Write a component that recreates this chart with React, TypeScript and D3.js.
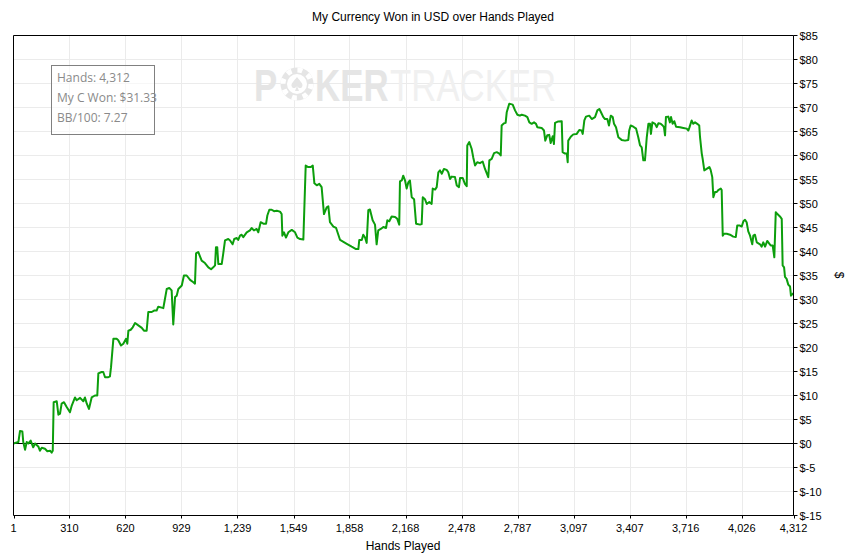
import React from "react";
import * as d3 from "d3";

const width = 857;
const height = 554;

const left = 13.5;
const right = 793.5;
const top = 35.5;
const bottom = 515.5;

// [hands played, cumulative USD won]
const curve: [number, number][] = [
  [1, 0], [28, 0.3], [37, 2.6], [50, 2.5], [55, 0.3], [65, -1.3], [74, 0.3], [83, 0], [96, 0.6], [110, -0.8],
  [120, 0], [138, -0.6], [147, -1.5], [157, -0.9], [175, -1.1], [188, -1.6], [203, -1.5], [212, -1.9], [218, -1.5],
  [223, 8.6], [240, 8.8], [249, 6.0], [258, 6.2], [267, 8.3], [280, 8.6], [295, 7.6], [313, 6.5], [323, 7.9],
  [341, 9.6], [350, 9.0], [369, 9.5], [387, 8.8], [396, 9.6], [406, 8.3], [418, 7.2], [433, 9.6], [451, 10.0],
  [464, 10.0], [470, 14.6], [488, 14.9], [497, 14.9], [507, 13.8], [525, 13.8], [534, 14.0], [540, 15.9],
  [553, 21.8], [571, 21.8], [580, 21.5], [595, 20.4], [608, 20.8], [623, 21.8], [630, 20.8], [636, 23.5],
  [649, 23.7], [660, 24.2], [673, 25.1], [691, 24.6], [710, 24.1], [722, 23.5], [737, 23.5], [746, 27.4],
  [765, 27.4], [778, 27.7], [792, 27.7], [801, 28.5], [820, 28.3], [829, 28.2], [838, 30.1], [848, 32.2],
  [862, 32.4], [875, 31.9], [884, 24.8], [894, 30.5], [903, 30.8], [912, 32.2], [931, 32.9], [943, 35.0],
  [958, 35.0], [977, 34.1], [995, 33.6], [1004, 33.3], [1010, 39.6], [1022, 39.9], [1041, 38.1], [1059, 37.6],
  [1078, 36.7], [1093, 36.3], [1105, 36.7], [1115, 37.1], [1120, 40.9], [1127, 40.9], [1133, 37.4], [1152, 37.4],
  [1160, 39.5], [1170, 42.3], [1188, 42.6], [1198, 42.3], [1212, 41.5], [1221, 42.6], [1235, 42.8], [1243, 42.4],
  [1253, 43.3], [1262, 43.5], [1271, 43.0], [1290, 44.0], [1308, 44.4], [1317, 44.9], [1330, 44.4], [1345, 44.7],
  [1354, 44.0], [1367, 46.1], [1382, 45.8], [1397, 45.8], [1404, 47.5], [1415, 48.7], [1428, 48.7], [1441, 48.4],
  [1456, 48.5], [1474, 48.3], [1483, 47.8], [1487, 43.3], [1496, 44.0], [1507, 42.9], [1520, 44.0], [1539, 44.5],
  [1557, 44.0], [1570, 42.9], [1585, 42.6], [1603, 42.5], [1616, 57.9], [1630, 57.6], [1644, 57.6], [1655, 57.9],
  [1664, 54.2], [1677, 53.8], [1691, 54.1], [1704, 53.4], [1717, 47.8], [1732, 49.2], [1741, 49.4], [1750, 46.1],
  [1769, 45.2], [1784, 44.9], [1806, 42.4], [1843, 41.6], [1870, 41.0], [1894, 40.5], [1907, 40.5], [1912, 42.4],
  [1926, 42.4], [1934, 43.5], [1944, 42.9], [1953, 41.8], [1962, 48.6], [1971, 48.75], [1986, 46.5], [1999, 45.6],
  [2008, 41.5], [2017, 44.4], [2031, 44.7], [2045, 45.1], [2060, 44.9], [2067, 46.5], [2078, 46.3], [2091, 47.3],
  [2110, 47.2], [2122, 46.8], [2133, 45.6], [2137, 54.6], [2147, 54.8], [2155, 55.8], [2165, 54.8], [2174, 53.1],
  [2183, 54.4], [2192, 54.8], [2202, 51.3], [2215, 50.9], [2226, 45.8], [2248, 45.6], [2257, 45.7], [2263, 51.3],
  [2275, 50.9], [2285, 49.9], [2299, 50.3], [2312, 49.9], [2318, 53.1], [2331, 52.9], [2340, 53.4], [2349, 56.5],
  [2358, 56.9], [2368, 56.2], [2380, 57.2], [2395, 57.0], [2404, 56.5], [2414, 55.1], [2423, 55.6], [2441, 55.5],
  [2451, 53.75], [2463, 53.4], [2469, 55.3], [2484, 55.3], [2496, 54.1], [2506, 53.6], [2509, 62.1], [2520, 62.8],
  [2533, 61.4], [2542, 59.6], [2552, 57.9], [2564, 58.6], [2579, 58.4], [2594, 58.75], [2607, 57.2], [2625, 55.5],
  [2631, 59.0], [2644, 59.3], [2657, 60.5], [2672, 60.7], [2686, 60.4], [2694, 60.0], [2699, 66.25], [2712, 66.7],
  [2721, 66.8], [2727, 69.0], [2741, 70.8], [2760, 70.6], [2773, 69.4], [2786, 68.5], [2800, 68.3], [2810, 68.5],
  [2828, 68.3], [2841, 68.0], [2852, 66.9], [2865, 66.6], [2878, 66.9], [2889, 66.6], [2896, 65.9], [2920, 65.75],
  [2933, 65.2], [2940, 63.1], [2951, 64.2], [2962, 64.3], [2970, 62.6], [2981, 64.0], [2988, 62.4], [2994, 66.8],
  [3012, 67.1], [3031, 67.15], [3036, 60.7], [3049, 60.4], [3059, 60.4], [3064, 58.6], [3067, 63.1], [3081, 63.9],
  [3095, 64.4], [3114, 64.5], [3128, 65.3], [3141, 65.2], [3147, 64.5], [3156, 67.3], [3165, 68.1], [3183, 68.3],
  [3197, 67.6], [3215, 68.0], [3228, 69.4], [3239, 69.7], [3248, 69.0], [3261, 68.0], [3270, 67.6], [3283, 67.6],
  [3292, 66.25], [3302, 68.3], [3313, 68.0], [3320, 66.6], [3331, 65.9], [3344, 63.8], [3362, 63.25], [3381, 63.1],
  [3399, 63.25], [3404, 65.2], [3412, 66.25], [3427, 66.0], [3442, 65.6], [3454, 63.8], [3464, 62.1], [3473, 61.7],
  [3482, 59.0], [3491, 59.0], [3501, 63.8], [3510, 66.6], [3519, 66.6], [3524, 64.5], [3532, 66.9], [3547, 66.6],
  [3556, 65.9], [3565, 66.7], [3578, 66.6], [3589, 66.25], [3596, 65.9], [3602, 64.2], [3607, 68.0], [3620, 68.1],
  [3629, 66.9], [3635, 68.0], [3644, 66.6], [3653, 67.15], [3663, 66.0], [3685, 65.9], [3703, 65.75], [3722, 65.6],
  [3731, 65.2], [3736, 65.75], [3749, 67.3], [3758, 66.6], [3768, 66.9], [3780, 66.6], [3791, 66.25], [3795, 64.0],
  [3805, 60.4], [3810, 59.3], [3819, 56.9], [3832, 57.2], [3847, 57.6], [3854, 57.0], [3863, 55.5], [3869, 51.3],
  [3878, 52.4], [3888, 52.4], [3896, 52.8], [3910, 53.1], [3915, 52.8], [3921, 43.3], [3928, 43.7], [3943, 43.7],
  [3961, 43.5], [3979, 43.1], [3993, 43.0], [4001, 45.4], [4016, 45.4], [4026, 45.2], [4035, 46.3], [4044, 46.6],
  [4053, 46.1], [4062, 44.2], [4072, 43.3], [4084, 41.5], [4090, 43.3], [4099, 43.5], [4109, 41.9], [4127, 41.5],
  [4136, 41.0], [4145, 41.9], [4155, 41.0], [4167, 42.2], [4177, 41.7], [4186, 41.25], [4197, 41.25], [4206, 38.8],
  [4214, 48.2], [4223, 47.8], [4237, 47.3], [4247, 46.8], [4252, 37.1], [4260, 36.7], [4265, 34.7], [4274, 34.3],
  [4283, 33.1], [4293, 32.7], [4298, 30.8], [4312, 31.33],
];

const xTicks = [1, 310, 620, 929, 1239, 1549, 1858, 2168, 2478, 2787, 3097, 3407, 3716, 4026, 4312];
const yTicks = d3.range(-15, 86, 5);
const legendLines = ["Hands: 4,312", "My C Won: $31.33", "BB/100: 7.27"];

const x = d3.scaleLinear().domain([1, 4312]).range([left, right]);
const y = d3.scaleLinear().domain([-15, 85]).range([bottom, top]);

const lineGen = d3
  .line<[number, number]>()
  .x((d) => x(d[0]))
  .y((d) => y(d[1]));

const axisFont = "'Liberation Sans', Arial, sans-serif";
const fmtUsd = (v: number) => (v < 0 ? `$-${Math.abs(v)}` : `$${v}`);
const fmtHands = d3.format(",");

const Watermark = () => {
  const cx = 297;
  const cy = 84;
  return (
    <g>
      {/* one text, squeezed horizontally; gap after P holds the chip */}
      <g transform="translate(254,101) scale(0.79,1)">
        <text fontFamily={axisFont} fontSize={44}>
          <tspan fontWeight="bold" fill="#e5e5e5">P</tspan>
          <tspan dx={48} fontWeight="bold" fill="#e5e5e5">KER</tspan>
          <tspan dx={2} fill="#f0f0f0">TRACKER</tspan>
        </text>
      </g>
      <circle cx={cx} cy={cy} r={16.5} fill="#e5e5e5" />
      <circle cx={cx} cy={cy} r={14} fill="none" stroke="#fff" strokeWidth={5} strokeDasharray="5 6" />
      <circle cx={cx} cy={cy} r={10} fill="#fff" />
      <path
        d={`M${cx},${cy - 7} C${cx + 3},${cy - 3} ${cx + 7},${cy} ${cx + 5},${cy + 3} C${cx + 4},${cy + 5} ${cx + 1},${cy + 4} ${cx},${cy + 2} L${cx + 2},${cy + 7} L${cx - 2},${cy + 7} L${cx},${cy + 2} C${cx - 1},${cy + 4} ${cx - 4},${cy + 5} ${cx - 5},${cy + 3} C${cx - 7},${cy} ${cx - 3},${cy - 3} ${cx},${cy - 7} Z`}
        fill="#e5e5e5"
      />
    </g>
  );
};

export default function App() {
  return (
    <div style={{ width, height, background: "#fff" }}>
      <style>{`body{margin:0}`}</style>
      <svg width={width} height={height} style={{ display: "block" }}>
        <rect width={width} height={height} fill="#fff" />

        {/* grid */}
        {yTicks.map((t) => (
          <line key={`gy${t}`} x1={left} x2={right} y1={y(t)} y2={y(t)} stroke="#ebebeb" />
        ))}
        {xTicks.slice(1, -1).map((t) => (
          <line key={`gx${t}`} x1={Math.round(x(t)) + 0.5} x2={Math.round(x(t)) + 0.5} y1={top} y2={bottom} stroke="#ebebeb" />
        ))}

        <Watermark />

        {/* zero line */}
        <line x1={left} x2={right} y1={y(0)} y2={y(0)} stroke="#000" />

        <path d={lineGen(curve) || ""} fill="none" stroke="#0c9e0c" strokeWidth={2} strokeLinejoin="round" />

        {/* frame */}
        <line x1={left} x2={right} y1={top} y2={top} stroke="#000" />
        <line x1={left} x2={left} y1={top} y2={bottom} stroke="#000" />
        <line x1={left} x2={right} y1={bottom} y2={bottom} stroke="#000" />
        <line x1={right} x2={right} y1={top} y2={bottom} stroke="#000" />

        {/* right axis */}
        {yTicks.map((t) => (
          <g key={`ty${t}`}>
            <line x1={right} x2={right + 4} y1={y(t)} y2={y(t)} stroke="#000" />
            <text x={right + 6} y={y(t) + 4} fontSize={11} fontFamily={axisFont} fill="#000">
              {fmtUsd(t)}
            </text>
          </g>
        ))}

        {/* bottom axis */}
        {xTicks.map((t) => (
          <g key={`tx${t}`}>
            <line x1={Math.round(x(t)) + 0.5} x2={Math.round(x(t)) + 0.5} y1={bottom} y2={bottom + 3} stroke="#000" />
            <text x={x(t)} y={bottom + 16} textAnchor="middle" fontSize={11} fontFamily={axisFont} fill="#000">
              {fmtHands(t)}
            </text>
          </g>
        ))}

        {/* titles */}
        <text x={433} y={21} textAnchor="middle" fontSize={12} fontFamily={axisFont} fill="#000">
          My Currency Won in USD over Hands Played
        </text>
        <text x={403} y={550} textAnchor="middle" fontSize={12} fontFamily={axisFont} fill="#000">
          Hands Played
        </text>
        <text transform="translate(835,275) rotate(90)" textAnchor="middle" fontSize={12} fontFamily={axisFont} fill="#000">
          $
        </text>

        {/* info box */}
        <rect x={51.5} y={65.5} width={103} height={69} fill="#fff" fillOpacity={0.6} stroke="#808080" />
        {legendLines.map((s, i) => (
          <text key={s} x={57} y={82 + i * 20} fontSize={12} fontFamily="'Open Sans', 'Noto Sans', sans-serif" fill="#8a8a8a">
            {s}
          </text>
        ))}
      </svg>
    </div>
  );
}
